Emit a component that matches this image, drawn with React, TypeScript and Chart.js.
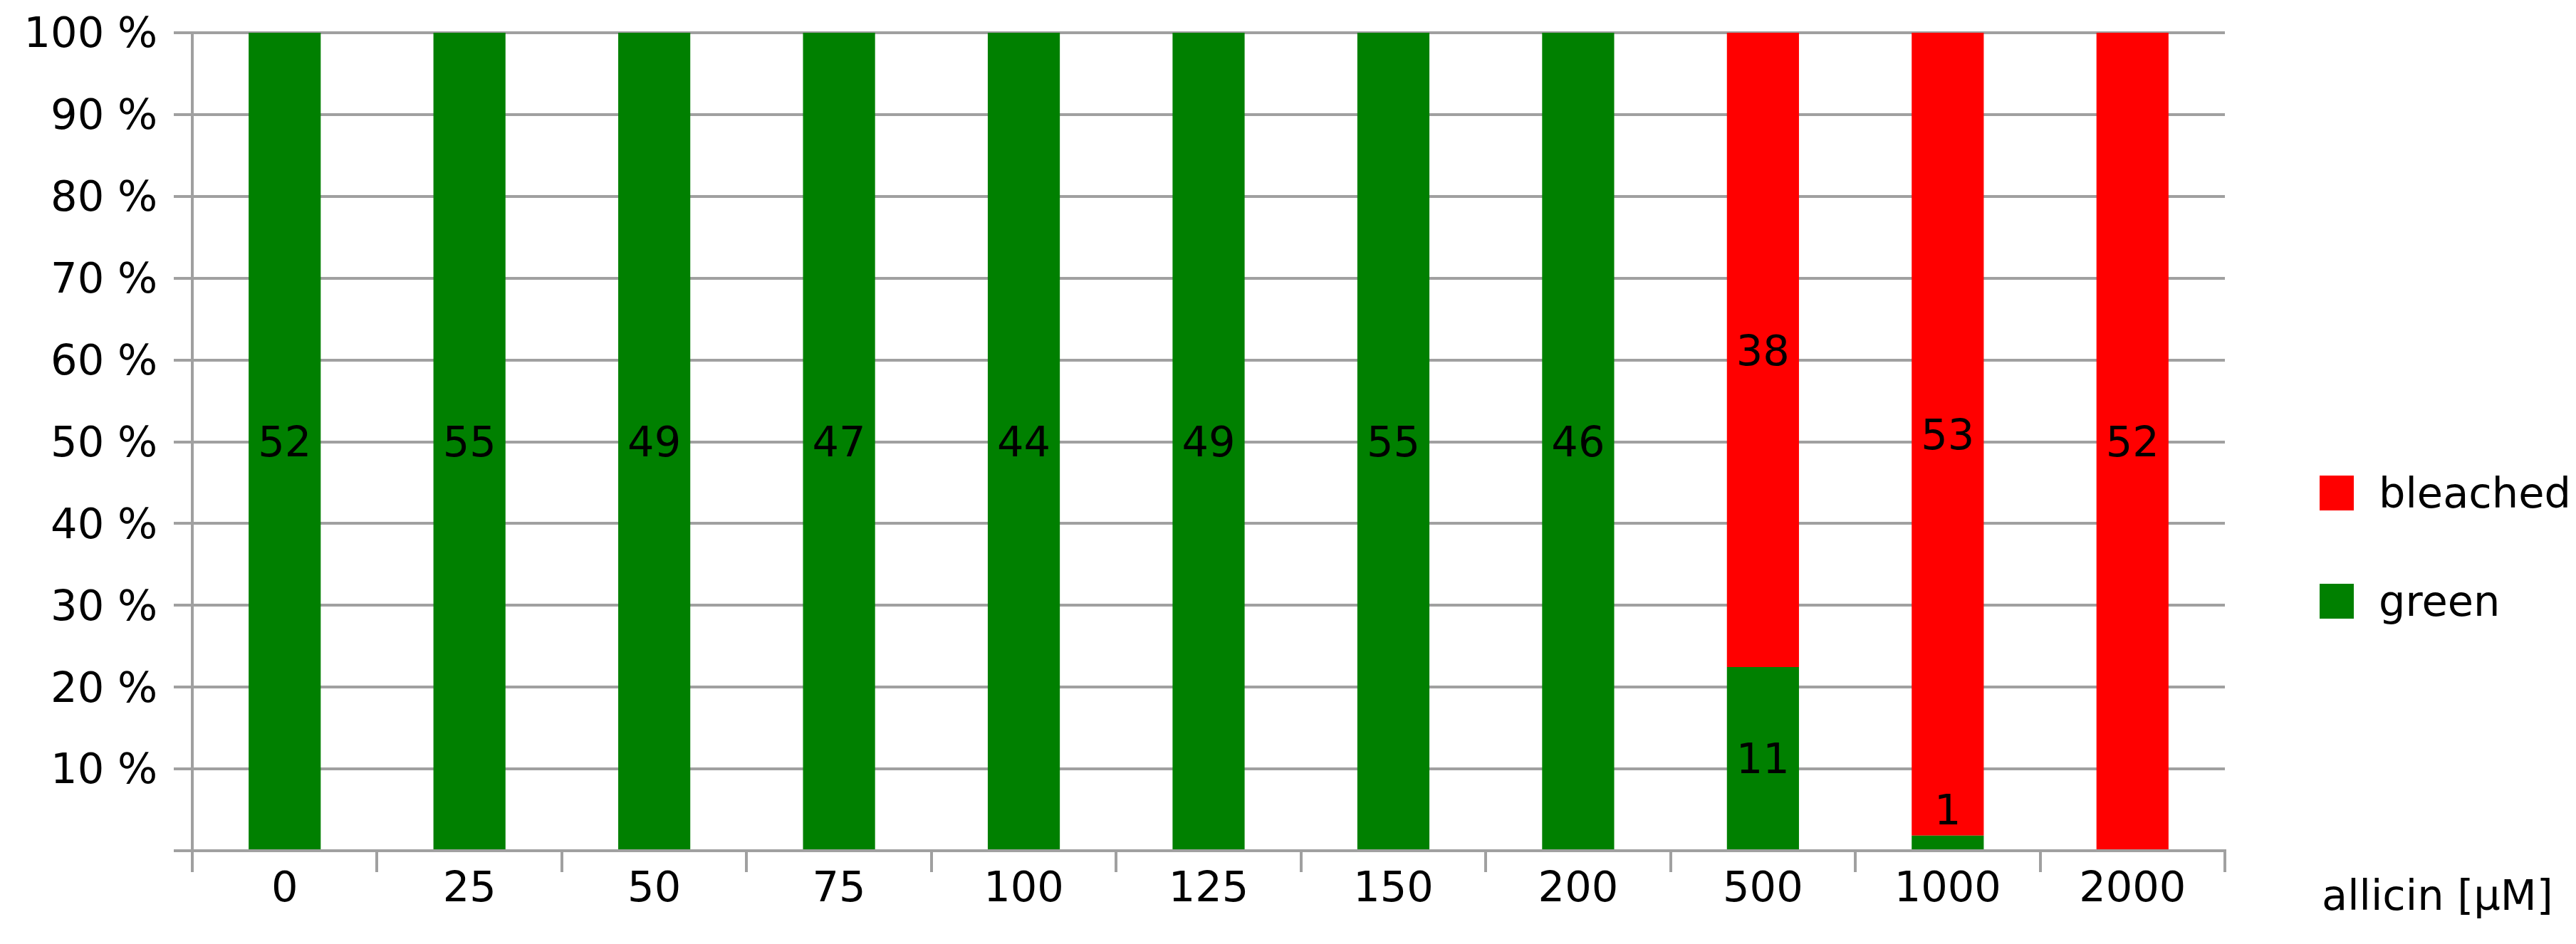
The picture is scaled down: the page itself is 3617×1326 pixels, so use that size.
import { useEffect, useRef } from "react"
import { Chart, registerables } from "chart.js"

Chart.register(...registerables)

// allicin concentrations (µM)
const concentrations = ["0", "25", "50", "75", "100", "125", "150", "200", "500", "1000", "2000"]
// seedling counts per concentration
const greenCounts = [52, 55, 49, 47, 44, 49, 55, 46, 11, 1, 0]
const bleachedCounts = [0, 0, 0, 0, 0, 0, 0, 0, 38, 53, 52]
const yTicks = [0, 10, 20, 30, 40, 50, 60, 70, 80, 90, 100]

const GREEN = "#008000"
const RED = "#ff0000"
const GRID = "#a0a0a0"
const FONT = "DejaVu Sans"
const FONT_SIZE = 59

const totals = concentrations.map((_, i) => greenCounts[i] + bleachedCounts[i])
const greenPct = greenCounts.map((v, i) => (v / totals[i]) * 100)
const bleachedPct = bleachedCounts.map((v, i) => (v / totals[i]) * 100)

const extrasPlugin = {
  id: "extras",
  afterDatasetsDraw(chart: any) {
    const { ctx, chartArea } = chart
    ctx.save()
    ctx.font = `${FONT_SIZE}px "${FONT}"`
    ctx.fillStyle = "#000"
    ctx.textAlign = "center"
    ctx.textBaseline = "middle"
    const counts = [greenCounts, bleachedCounts]
    chart.data.datasets.forEach((_: any, di: number) => {
      const meta = chart.getDatasetMeta(di)
      meta.data.forEach((bar: any, i: number) => {
        const n = counts[di][i]
        if (!n) return
        const top = Math.min(bar.y, bar.base)
        const bottom = Math.max(bar.y, bar.base)
        // +6 so the digits, not the em box, sit on the centre
        let y = (top + bottom) / 2 + 6
        y = Math.min(y, chartArea.bottom - 52)
        ctx.fillText(String(n), bar.x, y)
      })
    })
    ctx.restore()
  },
  afterDraw(chart: any) {
    const { ctx, chartArea } = chart
    const lx = chartArea.right + 133
    ctx.save()
    ctx.font = `${FONT_SIZE}px "${FONT}"`
    ctx.fillStyle = "#000"
    ctx.textAlign = "left"
    ctx.textBaseline = "alphabetic"
    const items = [
      { label: "bleached", color: RED, top: 668 },
      { label: "green", color: GREEN, top: 820 },
    ]
    items.forEach((it) => {
      ctx.fillStyle = it.color
      ctx.fillRect(lx, it.top, 48, 49)
      ctx.fillStyle = "#000"
      ctx.fillText(it.label, lx + 83, it.top + 45)
    })
    ctx.fillText("allicin [µM]", lx + 3, chartArea.bottom + 83)
    ctx.restore()
  },
}

export default function App() {
  const chartRef = useRef<HTMLCanvasElement>(null)
  const chartInstance = useRef<Chart | null>(null)

  useEffect(() => {
    if (!chartRef.current) return
    document.body.style.margin = "0"

    if (chartInstance.current) {
      chartInstance.current.destroy()
    }

    chartInstance.current = new Chart(chartRef.current, {
      type: "bar",
      data: {
        labels: concentrations,
        datasets: [
          {
            label: "green",
            data: greenPct,
            backgroundColor: GREEN,
            borderWidth: 0,
            barPercentage: 0.39,
            categoryPercentage: 1,
          },
          {
            label: "bleached",
            data: bleachedPct,
            backgroundColor: RED,
            borderWidth: 0,
            barPercentage: 0.39,
            categoryPercentage: 1,
          },
        ],
      },
      options: {
        responsive: true,
        maintainAspectRatio: false,
        animation: false,
        layout: {
          padding: { top: 46, right: 493, left: 0, bottom: 0 },
        },
        plugins: {
          legend: { display: false },
          tooltip: { enabled: false },
        },
        scales: {
          x: {
            stacked: true,
            grid: {
              display: true,
              drawOnChartArea: false,
              drawTicks: true,
              tickLength: 30,
              color: GRID,
              lineWidth: 4,
              offset: true,
            },
            border: { display: true, color: GRID, width: 4 },
            ticks: {
              color: "#000",
              padding: -10,
              maxRotation: 0,
              autoSkip: false,
              font: { family: FONT, size: FONT_SIZE },
            },
            afterFit: (scale: any) => {
              scale.height = 131
              scale.paddingLeft = 0
              scale.paddingRight = 0
            },
          },
          y: {
            stacked: true,
            min: 0,
            max: 100,
            afterBuildTicks: (scale: any) => {
              scale.ticks = yTicks.map((v) => ({ value: v }))
            },
            grid: {
              color: GRID,
              lineWidth: 4,
              tickLength: 26,
            },
            border: { display: true, color: GRID, width: 4 },
            ticks: {
              color: "#000",
              padding: 23,
              labelOffset: 5,
              font: { family: FONT, size: FONT_SIZE },
              callback: (v: any) => (Number(v) === 0 ? "" : `${v} %`),
            },
            afterFit: (scale: any) => {
              scale.width = 270
              scale.paddingTop = 0
              scale.paddingBottom = 0
            },
          },
        },
      },
      plugins: [extrasPlugin],
    })

    return () => {
      if (chartInstance.current) {
        chartInstance.current.destroy()
        chartInstance.current = null
      }
    }
  }, [])

  return (
    <div style={{ position: "fixed", left: 0, top: 0, width: 3617, height: 1326, background: "#fff" }}>
      <canvas ref={chartRef} />
    </div>
  )
}
